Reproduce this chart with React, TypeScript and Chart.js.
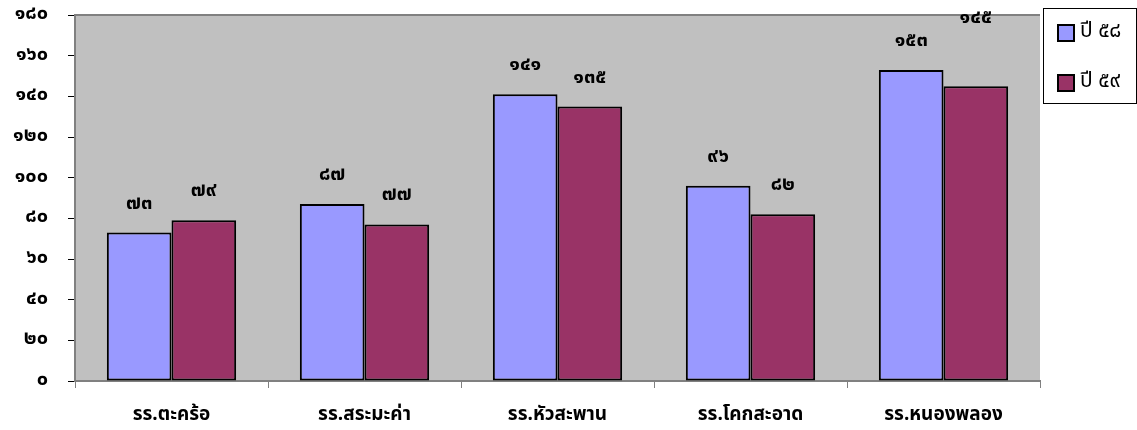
import React, { useEffect, useRef } from "react";
import { Chart, registerables } from "chart.js";
Chart.register(...registerables);

const categories = ["รร.ตะคร้อ", "รร.สระมะค่า", "รร.หัวสะพาน", "รร.โคกสะอาด", "รร.หนองพลอง"];
const seriesNames = ["ปี ๕๘", "ปี ๕๙"];
const year58 = [73, 87, 141, 96, 153];
const year59 = [79, 77, 135, 82, 145];
const yTicks = [0, 20, 40, 60, 80, 100, 120, 140, 160, 180];

const FONT = "Tahoma, 'Noto Sans Thai', 'Noto Sans', 'DejaVu Sans', sans-serif";
const thaiDigits = "๐๑๒๓๔๕๖๗๘๙";
const toThai = (n: number | string) => String(n).replace(/[0-9]/g, (d) => thaiDigits[+d]);

const colors = ["#9999FF", "#993366"];

const decorPlugin = {
  id: "decor",
  beforeDraw(chart: any) {
    const { ctx, chartArea: a } = chart;
    ctx.save();
    ctx.fillStyle = "#C0C0C0";
    ctx.fillRect(a.left, a.top, a.right - a.left, a.bottom - a.top);
    ctx.strokeStyle = "#808080";
    ctx.lineWidth = 2;
    ctx.beginPath();
    ctx.moveTo(a.left, a.top);
    ctx.lineTo(a.right, a.top);
    ctx.stroke();
    ctx.restore();
  },
  afterDatasetsDraw(chart: any) {
    const { ctx } = chart;
    ctx.save();
    ctx.font = `bold 20px ${FONT}`;
    ctx.fillStyle = "#000";
    ctx.textAlign = "center";
    ctx.textBaseline = "middle";
    chart.data.datasets.forEach((ds: any, di: number) => {
      const meta = chart.getDatasetMeta(di);
      meta.data.forEach((bar: any, i: number) => {
        const lift = di === 1 && i === 4 ? 67 : 28;
        ctx.fillText(toThai(ds.data[i]), bar.x, bar.y - lift);
      });
    });
    // legend
    const lx = 1043, ly = 8, lw = 93, lh = 95;
    ctx.fillStyle = "#fff";
    ctx.fillRect(lx, ly, lw, lh);
    ctx.strokeStyle = "#000";
    ctx.lineWidth = 1;
    ctx.strokeRect(lx + 0.5, ly + 0.5, lw, lh);
    ctx.font = `21px ${FONT}`;
    ctx.textAlign = "left";
    seriesNames.forEach((name, k) => {
      const cy = 33 + k * 50;
      ctx.fillStyle = colors[k];
      ctx.fillRect(1058, cy - 8, 16, 16);
      ctx.lineWidth = 2;
      ctx.strokeStyle = "#000";
      ctx.strokeRect(1058, cy - 8, 16, 16);
      ctx.fillStyle = "#000";
      ctx.fillText(name, 1080, cy);
    });
    ctx.restore();
  },
};

export default function App() {
  const ref = useRef<HTMLCanvasElement>(null);
  useEffect(() => {
    document.body.style.margin = "0";
    const chart = new Chart(ref.current!, {
      type: "bar",
      data: {
        labels: categories,
        datasets: [
          { label: seriesNames[0], data: year58, backgroundColor: colors[0], borderColor: "#000", borderWidth: 2, borderSkipped: false },
          { label: seriesNames[1], data: year59, backgroundColor: colors[1], borderColor: "#000", borderWidth: 2, borderSkipped: false },
        ],
      },
      options: {
        animation: false,
        responsive: false,
        layout: { padding: { top: 15, right: 97, left: 0, bottom: 0 } },
        datasets: { bar: { categoryPercentage: 0.67, barPercentage: 1.0 } },
        plugins: { legend: { display: false }, tooltip: { enabled: false } },
        scales: {
          x: {
            afterFit: (s: any) => { s.height = 49; s.paddingLeft = 0; s.paddingRight = 0; },
            grid: { drawOnChartArea: false, drawTicks: true, tickLength: 7, tickColor: "#808080", offset: true },
            border: { color: "#808080", width: 2 },
            ticks: { color: "#000", font: { family: FONT, size: 19, weight: "bold" }, padding: 17 },
          },
          y: {
            min: 0,
            max: 180,
            afterFit: (s: any) => { s.width = 75; s.paddingTop = 0; s.paddingBottom = 0; },
            afterBuildTicks: (s: any) => { s.ticks = yTicks.map((v) => ({ value: v })); },
            grid: { drawOnChartArea: false, drawTicks: true, tickLength: 7, tickColor: "#000" },
            border: { color: "#808080", width: 2 },
            ticks: {
              color: "#000",
              padding: 20,
              font: { family: FONT, size: 20, weight: "bold" },
              callback: (v: any) => toThai(v),
            },
          },
        },
      },
      plugins: [decorPlugin],
    });
    return () => chart.destroy();
  }, []);
  return <canvas ref={ref} width={1137} height={430} style={{ display: "block" }} />;
}
